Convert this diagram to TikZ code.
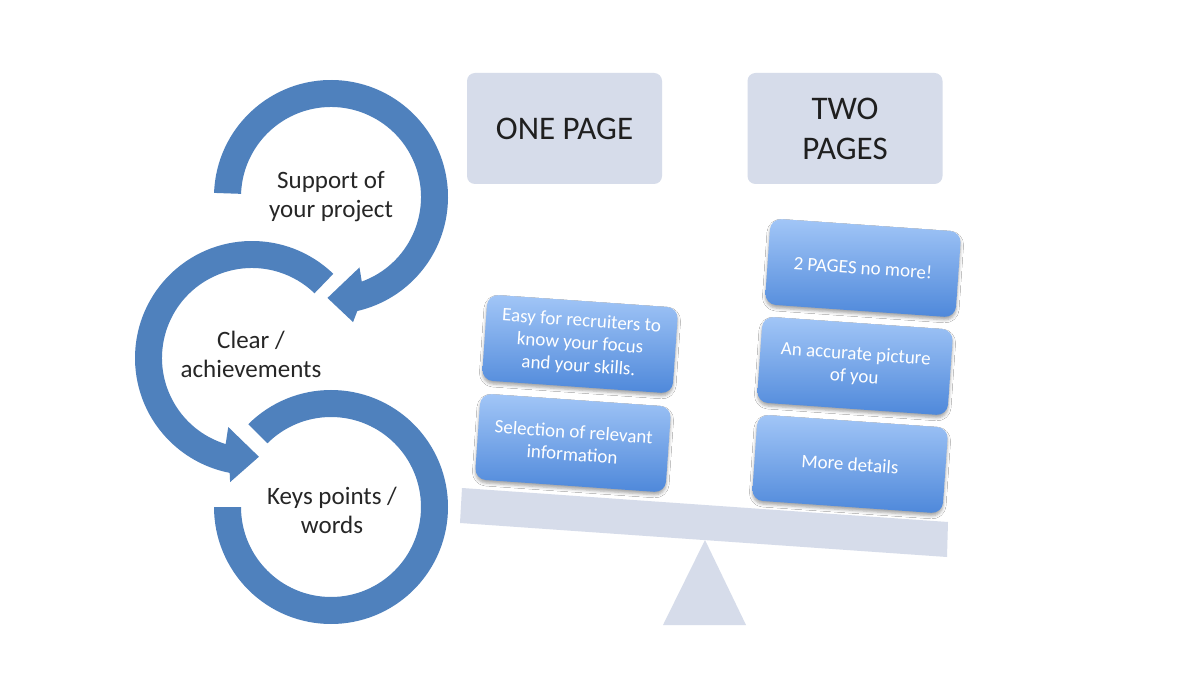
\documentclass[tikz,border=0pt]{standalone}
\usepackage{fontspec}
\setmainfont{Carlito}
\usetikzlibrary{calc,shadows.blur}
\definecolor{ringblue}{RGB}{79,129,189}
\definecolor{panel}{RGB}{214,220,234}
\definecolor{boxtop}{RGB}{162,198,247}
\definecolor{boxbot}{RGB}{78,136,218}
\definecolor{txt}{RGB}{38,38,38}
\begin{document}
\begin{tikzpicture}[x=1pt,y=1pt,
  ring/.style={fill=ringblue,draw=none},
  circtext/.style={font=\fontsize{25}{29}\selectfont,text=txt,align=center},
  header/.style={fill=panel,rounded corners=8pt,minimum width=195pt,minimum height=111pt,
    font=\fontsize{33}{40}\selectfont,text=black!88,align=center},
  card/.style={rounded corners=11pt,minimum width=191pt,minimum height=86pt,
    top color=boxtop,bottom color=boxbot,draw=none,text=white,align=center,
    font=\fontsize{19}{22.5}\selectfont,rotate=-4,
    blur shadow={shadow xshift=0pt,shadow yshift=-3pt,shadow blur radius=3pt,shadow opacity=35}},
  base/.style={fill=panel,draw=none}
]
\useasboundingbox (0,0) rectangle (1191,686);
\fill[white] (0,0) rectangle (1191,686);

% centres of the three circular arrows
\coordinate (c1) at (331,489);
\coordinate (c2) at (252,328);
\coordinate (c3) at (331,179);

% ring 1 (clockwise, arrow head at the bottom)
\fill[ring] ($(c1)+(178:117)$) arc[start angle=178,end angle=-77,radius=117]
  -- ($(c1)+(-80:127)$) -- ($(c1)+(-92:101)$) -- ($(c1)+(-68:76)$)
  -- ($(c1)+(-70:90)$) arc[start angle=-70,end angle=178,radius=90] -- cycle;

% ring 2 (counter-clockwise, arrow head at the bottom)
\fill[ring] ($(c2)+(46:117)$) arc[start angle=46,end angle=259,radius=117]
  -- ($(c2)+(260:126)$) -- ($(c2)+(274:99)$) -- ($(c2)+(251:73)$)
  -- ($(c2)+(253:90)$) arc[start angle=253,end angle=46,radius=90] -- cycle;

% ring 3 (no arrow head)
\fill[ring] ($(c3)+(135:117)$) arc[start angle=135,end angle=-180,radius=117]
  -- ($(c3)+(180:90)$) arc[start angle=-180,end angle=135,radius=90] -- cycle;

\node[circtext] (t1) at (331,489) {Support of\\your project};
\node[circtext] (t2) at (251,332) {Clear /\\achievements};
\node[circtext] (t3) at (332,176) {Keys points /\\words};

% headers
\node[header] (h1) at (564.5,557.5) {ONE PAGE};
\node[header] (h2) at (845,557.5) {TWO\\PAGES};

% balance
\fill[base] (705,146) -- (663,61) -- (746,61) -- cycle;
\fill[base] (460,163) -- (462,198) -- (948,164) -- (947,129) -- cycle;

% cards
\node[card] (l1) at (580,342) {Easy for recruiters to\\know your focus\\and your skills.};
\node[card] (l2) at (573,243) {Selection of relevant\\information};
\node[card] (r1) at (863,418) {2 PAGES no more!};
\node[card] (r2) at (855,320) {An accurate picture\\of you};
\node[card] (r3) at (850,222) {More details};
\end{tikzpicture}
\end{document}
